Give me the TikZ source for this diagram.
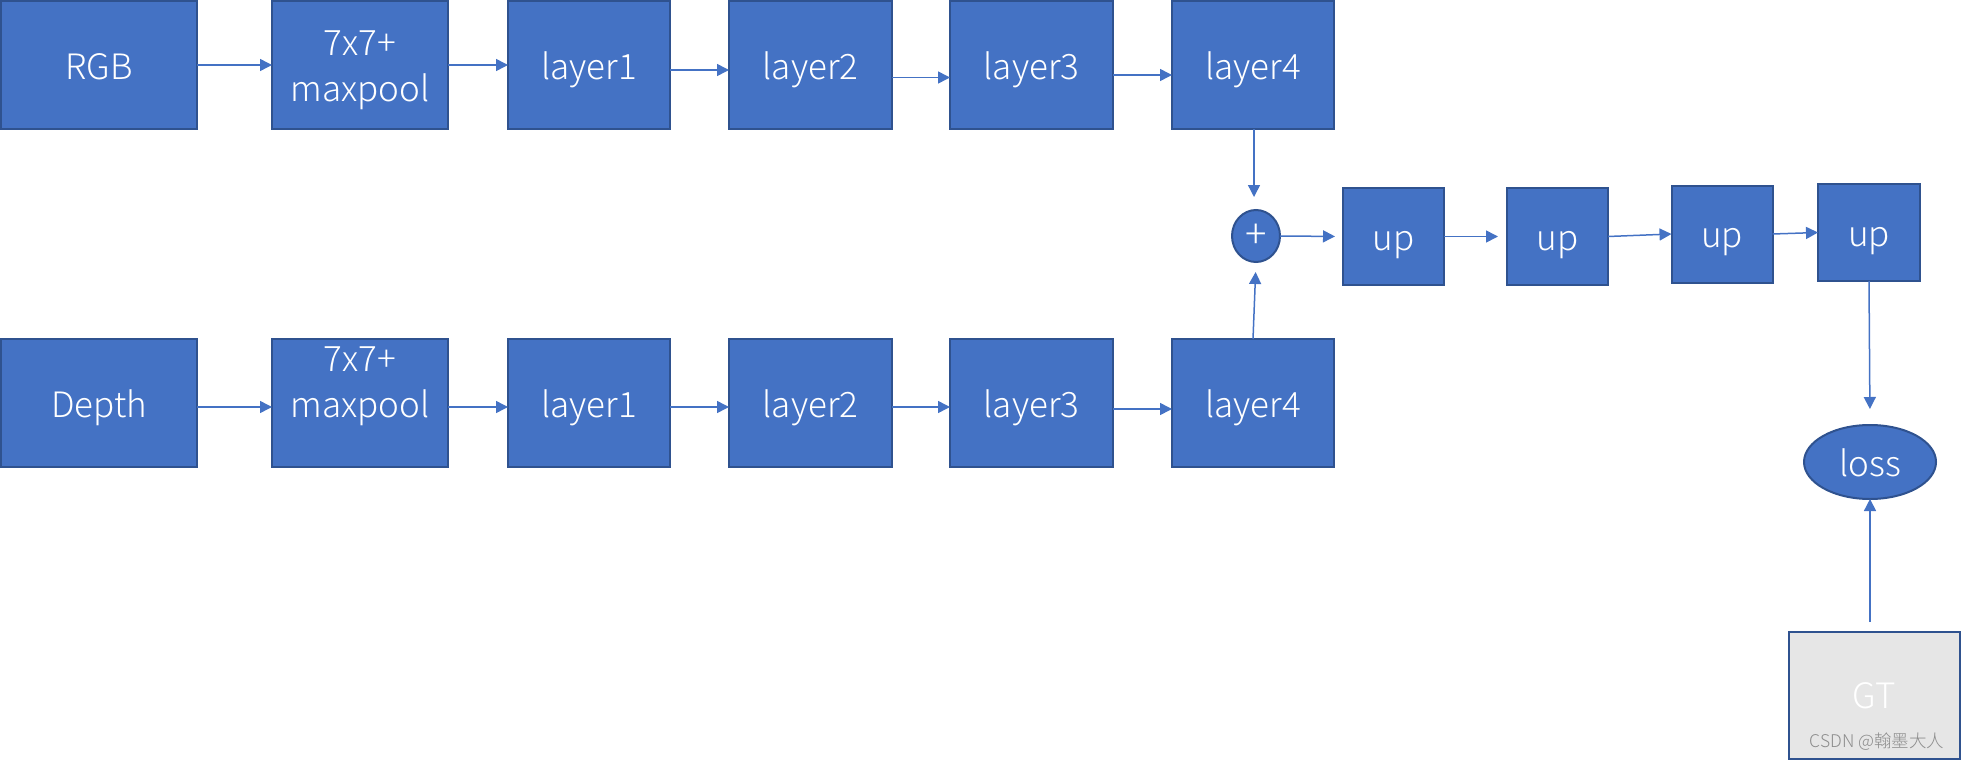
\documentclass[tikz,border=0pt]{standalone}
\usepackage{fontspec}
\setmainfont{Noto Sans CJK SC}[UprightFont={* Light}]
\usetikzlibrary{arrows.meta,shapes.geometric,calc}
\definecolor{boxblue}{HTML}{4472C4}
\definecolor{boxedge}{HTML}{2F528F}
\definecolor{gtgray}{HTML}{E6E6E6}
\definecolor{wmgray}{HTML}{8C8C8C}
\begin{document}
\begin{tikzpicture}[x=1pt,y=-1pt,
  blk/.style={draw=boxedge,fill=boxblue,line width=2pt,text=white,inner sep=0pt,outer sep=0pt,
    font=\fontsize{35}{46}\selectfont,align=center,text height=28pt,text depth=0pt},
  big/.style={blk,minimum height=128pt},
  upbox/.style={blk,minimum width=101pt,minimum height=97pt,text height=27pt},
  arr/.style={draw=boxblue,line width=1.5pt,-{Triangle[length=12pt,width=12pt]}}]
\useasboundingbox (0,0) rectangle (1961,760);
% top row
\node[big,minimum width=196pt] (rgb) at (99,65) {RGB};
\node[big,minimum width=176pt,text height=72pt] (mpa) at (360,65) {7x7+\\maxpool};
\node[big,minimum width=162pt] (l1a) at (589,65) {layer1};
\node[big,minimum width=163pt] (l2a) at (810.5,65) {layer2};
\node[big,minimum width=163pt] (l3a) at (1031.5,65) {layer3};
\node[big,minimum width=162pt] (l4a) at (1253,65) {layer4};
% bottom row
\node[big,minimum width=196pt] (dep) at (99,403) {Depth};
\node[big,minimum width=176pt] (mpb) at (360,403) {7x7+\\maxpool};
\node[big,minimum width=162pt] (l1b) at (589,403) {layer1};
\node[big,minimum width=163pt] (l2b) at (810.5,403) {layer2};
\node[big,minimum width=163pt] (l3b) at (1031.5,403) {layer3};
\node[big,minimum width=162pt] (l4b) at (1253,403) {layer4};
% fusion and decoder
\node[blk,ellipse,minimum width=48pt,minimum height=52pt,font=\fontsize{40}{42}\selectfont,text height=,text depth=] (plus) at (1256,236) {+};
\node[upbox] (up1) at (1393.5,236.5) {up};
\node[upbox] (up2) at (1557.5,236.5) {up};
\node[upbox] (up3) at (1722,234) {up};
\node[upbox,minimum width=102pt] (up4) at (1869,232.5) {up};
\node[blk,ellipse,minimum width=132pt,minimum height=74pt] (loss) at (1870,462) {loss};
\node[blk,fill=gtgray,minimum width=171pt,minimum height=127pt,text height=26pt] (gt) at (1874,695.5) {GT};
\node[text=wmgray,font=\fontsize{17.5}{20}\selectfont,inner sep=0pt] (wm) at (1877,742) {CSDN @翰墨大人};
% top row arrows
\draw[arr] (rgb.east) -- (mpa.west);
\draw[arr] (mpa.east) -- (l1a.west);
\draw[arr] ($(l1a.east)+(0,5)$) -- ($(l2a.west)+(0,5)$);
\draw[arr] ($(l2a.east)+(0,12.5)$) -- ($(l3a.west)+(0,12.5)$);
\draw[arr] ($(l3a.east)+(0,10)$) -- ($(l4a.west)+(0,10)$);
% bottom row arrows
\draw[arr] ($(dep.east)+(0,4)$) -- ($(mpb.west)+(0,4)$);
\draw[arr] ($(mpb.east)+(0,4)$) -- ($(l1b.west)+(0,4)$);
\draw[arr] ($(l1b.east)+(0,4)$) -- ($(l2b.west)+(0,4)$);
\draw[arr] ($(l2b.east)+(0,4)$) -- ($(l3b.west)+(0,4)$);
\draw[arr] ($(l3b.east)+(0,6)$) -- ($(l4b.west)+(0,6)$);
% fusion
\draw[arr,shorten >=13pt] ($(l4a.south)+(1,0)$) -- ($(l4a.south |- plus.north)+(1,0)$);
\draw[arr,shorten >=10pt] (l4b.north) -- (plus.south);
% decoder
\draw[arr,shorten >=8pt] (plus.east) -- (up1.west);
\draw[arr,shorten >=9pt] (up1.east) -- (up2.west);
\draw[arr] (up2.east) -- (up3.west);
\draw[arr] (up3.east) -- (up4.west);
\draw[arr,shorten >=16pt] (up4.south) -- (loss.north);
\draw[arr,shorten <=10pt] (gt.north -| loss.south) -- (loss.south);
\end{tikzpicture}
\end{document}
